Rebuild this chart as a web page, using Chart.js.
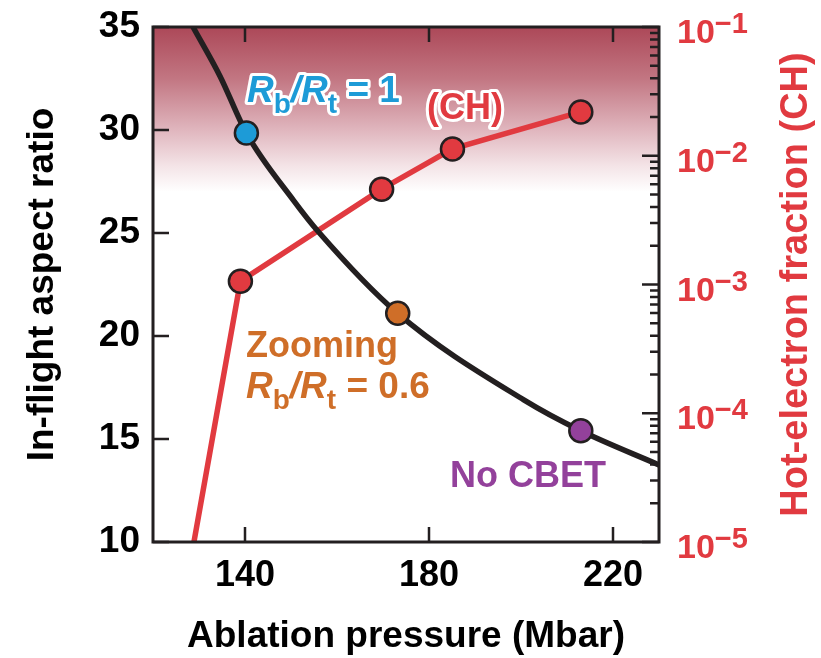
<!DOCTYPE html>
<html><head><meta charset="utf-8">
<style>html,body{margin:0;padding:0;background:#fff;}#wrap{width:821px;height:658px;}</style>
<script src="https://cdn.jsdelivr.net/npm/chart.js@4"></script>
</head><body><div id="wrap"><canvas id="c" width="821" height="658"></canvas></div>
<script>
// ---- data ----
const curvePressure = [128.7, 134.6, 140.3, 150.5, 156.0, 173.2, 200.6, 213.0, 230.0];
const curveAspect   = [35.0, 32.6, 29.85, 26.6, 25.05, 21.1, 16.9, 15.4, 13.74];
const runNames      = ['Rb/Rt = 1', 'Zooming Rb/Rt = 0.6', 'No CBET'];
const runPressure   = [140.3, 173.2, 213.0];
const runAspect     = [29.85, 21.1, 15.4];
const runColors     = ['#1d9bd7', '#cf6e28', '#93419b'];
const hotPressure   = [128.9, 139.0, 169.7, 185.1, 213.0];
const hotFraction   = [1.0e-5, 1.06e-3, 5.5e-3, 1.13e-2, 2.19e-2];
const hotMarker     = [false, true, true, true, true];
const xTickValues   = [140, 180, 220];
const yTickValues   = [10, 15, 20, 25, 30, 35];
const y2TickValues  = [1e-5, 1e-4, 1e-3, 1e-2, 1e-1];
const y2TickExps    = ['\u22125', '\u22124', '\u22123', '\u22122', '\u22121'];
const minorMultipliers = [2, 3, 4, 5, 6, 7, 8, 9];

const FONT = '"Liberation Sans", Arial, Helvetica, sans-serif';
const INK = '#231f20';
const RED = '#e13a40';

function drawRich(ctx, x, y, segs, color, outline) {
  let cx = x;
  const items = segs.map(s => {
    ctx.font = s.font;
    const w = ctx.measureText(s.text).width;
    const it = Object.assign({}, s, {x: cx});
    cx += w + (s.kern || 0);
    return it;
  });
  ctx.textAlign = 'left';
  ctx.textBaseline = 'alphabetic';
  if (outline) {
    ctx.strokeStyle = '#fff';
    ctx.lineWidth = outline;
    ctx.lineJoin = 'round';
    items.forEach(it => { ctx.font = it.font; ctx.strokeText(it.text, it.x, y + (it.dy || 0)); });
  }
  ctx.fillStyle = color;
  items.forEach(it => { ctx.font = it.font; ctx.fillText(it.text, it.x, y + (it.dy || 0)); });
}
function ratioSegs(size, tail) {
  const big = 'bold ' + size + 'px ' + FONT;
  const ital = 'italic bold ' + size + 'px ' + FONT;
  const sub = 'bold ' + Math.round(size * 0.76) + 'px ' + FONT;
  const dy = Math.round(size * 0.3);
  return [
    {text: 'R', font: ital},
    {text: 'b', font: sub, dy: dy},
    {text: '/', font: ital},
    {text: 'R', font: ital},
    {text: 't', font: sub, dy: dy},
    {text: tail, font: big}
  ];
}
function noPad(s) { s.paddingTop = 0; s.paddingBottom = 0; s.paddingLeft = 0; s.paddingRight = 0; }

const backdrop = {
  id: 'backdrop',
  beforeDatasetsDraw(chart) {
    const {ctx, chartArea: a} = chart;
    const g = ctx.createLinearGradient(0, a.top, 0, a.bottom);
    g.addColorStop(0, 'rgb(172,72,88)');
    g.addColorStop(0.1, 'rgb(194,118,130)');
    g.addColorStop(0.2, 'rgb(224,182,190)');
    g.addColorStop(0.27, 'rgb(244,228,231)');
    g.addColorStop(0.32, 'rgb(255,255,255)');
    g.addColorStop(1, 'rgb(255,255,255)');
    ctx.save();
    ctx.fillStyle = g;
    ctx.fillRect(a.left, a.top, a.right - a.left, a.bottom - a.top);
    ctx.restore();
  }
};

const frame = {
  id: 'frame',
  afterDatasetsDraw(chart) {
    const {ctx, chartArea: a, scales} = chart;
    ctx.save();
    ctx.strokeStyle = INK;
    ctx.lineWidth = 2.5;
    ctx.beginPath();
    xTickValues.forEach(v => {
      const px = scales.x.getPixelForValue(v);
      ctx.moveTo(px, a.bottom); ctx.lineTo(px, a.bottom - 15);
      ctx.moveTo(px, a.top); ctx.lineTo(px, a.top + 15);
    });
    yTickValues.forEach(v => {
      const py = scales.y.getPixelForValue(v);
      ctx.moveTo(a.left, py); ctx.lineTo(a.left + 16, py);
    });
    y2TickValues.forEach((v, i) => {
      const py = scales.y2.getPixelForValue(v);
      ctx.moveTo(a.right, py); ctx.lineTo(a.right - 17, py);
      if (i < y2TickValues.length - 1) {
        minorMultipliers.forEach(m => {
          const pm = scales.y2.getPixelForValue(v * m);
          ctx.moveTo(a.right, pm); ctx.lineTo(a.right - 9, pm);
        });
      }
    });
    ctx.stroke();
    ctx.lineWidth = 3;
    ctx.strokeRect(a.left, a.top, a.right - a.left, a.bottom - a.top);
    ctx.restore();

    // annotations
    ctx.save();
    drawRich(ctx, 247, 102, ratioSegs(37, ' = 1'), runColors[0], 6);
    drawRich(ctx, 427, 119, [{text: '(CH)', font: 'bold 36px ' + FONT}], RED, 6);
    drawRich(ctx, 246, 357, [{text: 'Zooming', font: 'bold 36px ' + FONT}], runColors[1], 0);
    drawRich(ctx, 246, 398, ratioSegs(37, ' = 0.6'), runColors[1], 0);
    drawRich(ctx, 450, 487, [{text: 'No CBET', font: 'bold 36px ' + FONT}], runColors[2], 0);
    ctx.restore();
  },
  afterDraw(chart) {
    const {ctx, chartArea: a, scales} = chart;
    ctx.save();
    ctx.fillStyle = RED;
    ctx.textAlign = 'left';
    ctx.textBaseline = 'alphabetic';
    y2TickValues.forEach((v, i) => {
      const py = scales.y2.getPixelForValue(v);
      ctx.font = 'bold 34px ' + FONT;
      ctx.fillText('10', 677, py + 16);
      const w = ctx.measureText('10').width;
      ctx.font = 'bold 29px ' + FONT;
      ctx.fillText(y2TickExps[i], 677 + w, py + 6);
    });
    ctx.translate(797, (a.top + a.bottom) / 2);
    ctx.rotate(-Math.PI / 2);
    ctx.textAlign = 'center';
    ctx.textBaseline = 'middle';
    ctx.font = 'bold 38px ' + FONT;
    ctx.fillText('Hot-electron fraction (CH)', 0, 0);
    ctx.restore();
  }
};

new Chart(document.getElementById('c'), {
  type: 'line',
  data: {
    datasets: [
      {
        label: 'Runs',
        data: runPressure.map((x, i) => ({x: x, y: runAspect[i]})),
        yAxisID: 'y',
        showLine: false,
        pointRadius: 11.5,
        pointBackgroundColor: runColors,
        pointBorderColor: INK,
        pointBorderWidth: 2.5
      },
      {
        label: 'In-flight aspect ratio',
        data: curvePressure.map((x, i) => ({x: x, y: curveAspect[i]})),
        yAxisID: 'y',
        borderColor: INK,
        borderWidth: 5.5,
        pointRadius: 0,
        cubicInterpolationMode: 'monotone',
        clip: 0
      },
      {
        label: 'Hot-electron fraction (CH)',
        data: hotPressure.map((x, i) => ({x: x, y: hotFraction[i]})),
        yAxisID: 'y2',
        borderColor: RED,
        borderWidth: 5.5,
        pointRadius: hotMarker.map(m => m ? 11.5 : 0),
        pointBackgroundColor: RED,
        pointBorderColor: INK,
        pointBorderWidth: 2.5,
        clip: 0
      }
    ]
  },
  options: {
    responsive: false,
    animation: false,
    layout: {padding: {top: 27, left: 0, right: 0, bottom: 0}},
    plugins: {legend: {display: false}, tooltip: {enabled: false}},
    scales: {
      x: {
        type: 'linear', position: 'bottom', min: 120, max: 230,
        afterBuildTicks: s => { s.ticks = xTickValues.map(v => ({value: v})); },
        afterFit: s => { s.height = 116; noPad(s); },
        grid: {display: false, drawTicks: false}, border: {display: false},
        ticks: {color: '#000', padding: 16, maxRotation: 0, autoSkip: false,
                font: {family: FONT, size: 36, weight: 'bold', lineHeight: 1}},
        title: {display: true, text: 'Ablation pressure (Mbar)', color: '#000',
                padding: {top: 0, bottom: 3},
                font: {family: FONT, size: 37, weight: 'bold', lineHeight: 1}}
      },
      y: {
        type: 'linear', position: 'left', min: 10, max: 35,
        afterBuildTicks: s => { s.ticks = yTickValues.map(v => ({value: v})); },
        afterFit: s => { s.width = 153; noPad(s); },
        grid: {display: false, drawTicks: false}, border: {display: false},
        ticks: {color: '#000', padding: 13, autoSkip: false,
                font: {family: FONT, size: 37, weight: 'bold', lineHeight: 1}},
        title: {display: true, text: 'In-flight aspect ratio', color: '#000',
                padding: {top: 24, bottom: 0},
                font: {family: FONT, size: 37, weight: 'bold', lineHeight: 1}}
      },
      y2: {
        type: 'logarithmic', position: 'right', min: 1e-5, max: 1e-1,
        afterFit: s => { s.width = 162; noPad(s); },
        grid: {display: false, drawTicks: false}, border: {display: false},
        ticks: {display: false}
      }
    }
  },
  plugins: [backdrop, frame]
});
</script>
</body></html>
